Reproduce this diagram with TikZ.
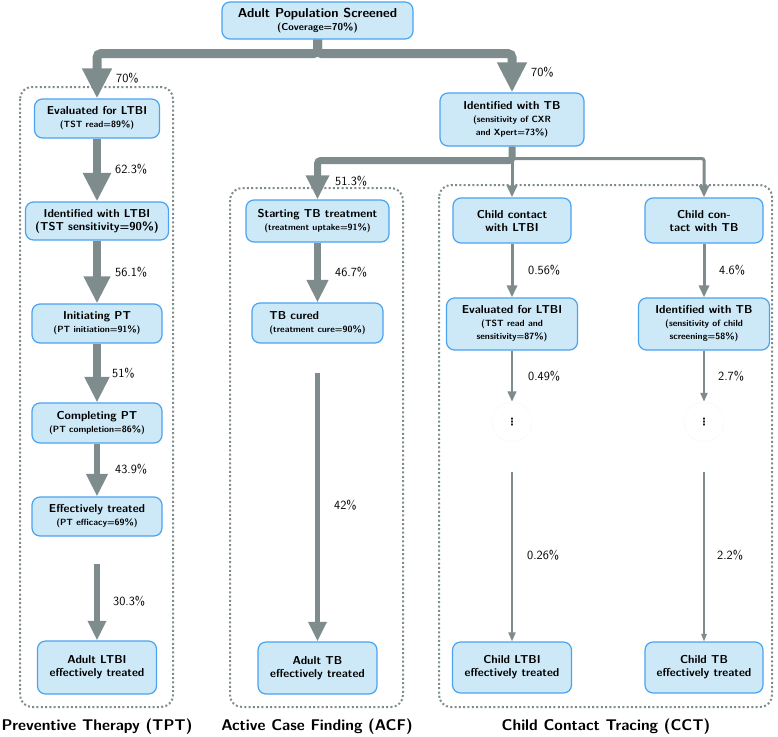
\documentclass[tikz,border=0pt]{standalone}
\usepackage{fontspec}
\usetikzlibrary{arrows.meta}

\newfontfamily\dotsfont{DejaVu Sans}
\definecolor{boxfill}{HTML}{CDE9F8}
\definecolor{boxline}{HTML}{4AA3EF}
\definecolor{flowgray}{HTML}{7F8C8D}
\newcommand{\bigfnt}{\fontsize{13}{14}\selectfont}
\newcommand{\midfnt}{\fontsize{11.5}{13}\selectfont}
\newcommand{\smlfnt}{\fontsize{9}{10.5}\selectfont}
\newcommand{\pctfnt}{\fontsize{12.5}{14}\selectfont}

\begin{document}
\begin{tikzpicture}[x=1pt, y=-1pt,
    box/.style={draw=boxline, fill=boxfill, line width=1.2pt, rounded corners=8pt,
        align=center, inner sep=2pt, font=\sffamily\bfseries\midfnt},
    flow/.style={draw=flowgray, line width=#1, -{Triangle[length=3pt 3, width=1pt 3]}},
    flow/.default=3pt,
    pct/.style={font=\sffamily\pctfnt, anchor=west, inner sep=0pt},
    group/.style={draw=flowgray, line width=2pt, dash pattern=on 2pt off 2.3pt, rounded corners=12pt},
    title/.style={font=\sffamily\bfseries\fontsize{15.5}{17}\selectfont},
    dots/.style={circle, draw=black!3, fill=white, minimum size=40pt, inner sep=0pt,
        font=\dotsfont\bfseries\fontsize{10}{10}\selectfont}]
    \useasboundingbox (0,0) rectangle (778,736);

    %groups (dotted)
    \draw[group] (20,87) rectangle (173,707);
    \draw[group] (230,188) rectangle (403,707);
    \draw[group] (439,185) rectangle (772,707);

    %screening
    \node[box, minimum width=191pt, minimum height=37pt, font=\sffamily\bfseries\bigfnt] (screen) at (317.5,20.5)
        {Adult Population Screened\\[-1pt]{\fontsize{10}{11}\selectfont (Coverage=70\%)}};

    %preventive therapy
    \node[box, minimum width=125pt, minimum height=39pt] (evalltbi) at (97,118.5)
        {Evaluated for LTBI\\{\smlfnt (TST read=89\%)}};
    \node[box, minimum width=143pt, minimum height=38pt] (idltbi) at (97,221)
        {Identified with LTBI\\(TST sensitivity=90\%)};
    \node[box, minimum width=130pt, minimum height=39pt] (initpt) at (97,323.5)
        {Initiating PT\\{\smlfnt (PT initiation=91\%)}};
    \node[box, minimum width=130pt, minimum height=40pt] (comppt) at (97,423)
        {Completing PT\\{\smlfnt (PT completion=86\%)}};
    \node[box, minimum width=130pt, minimum height=39pt] (efftr) at (97,516.5)
        {Effectively treated\\{\smlfnt (PT efficacy=69\%)}};
    \node[box, minimum width=119pt, minimum height=53pt] (adultltbi) at (97,667.5)
        {Adult LTBI\\effectively treated};

    %active case finding
    \node[box, minimum width=144pt, minimum height=53pt] (idtb) at (512,119.5)
        {Identified with TB\\{\smlfnt (sensitivity of CXR}\\{\smlfnt and Xpert=73\%)}};
    \node[box, minimum width=143pt, minimum height=42pt] (starttb) at (317.5,221)
        {Starting TB treatment\\{\smlfnt (treatment uptake=91\%)}};
    \node[box, minimum width=131pt, minimum height=40pt, align=left] (tbcured) at (317.5,323)
        {TB cured\\{\smlfnt (treatment cure=90\%)}};
    \node[box, minimum width=119pt, minimum height=52pt] (adulttb) at (317.5,668)
        {Adult TB\\effectively treated};

    %child contact tracing
    \node[box, minimum width=118pt, minimum height=45pt] (childltbi) at (512,220.5)
        {Child contact\\with LTBI};
    \node[box, minimum width=118pt, minimum height=45pt] (childtb) at (704,220.5)
        {Child con-\\tact with TB};
    \node[box, minimum width=131pt, minimum height=52pt] (evalchild) at (512,324)
        {Evaluated for LTBI\\{\smlfnt (TST read and}\\{\smlfnt sensitivity=87\%)}};
    \node[box, minimum width=131pt, minimum height=52pt] (idchild) at (704,324)
        {Identified with TB\\{\smlfnt (sensitivity of child}\\{\smlfnt screening=58\%)}};
    \node[dots] (dotsltbi) at (512,422) {⋮};
    \node[dots] (dotstb) at (704,422) {⋮};
    \node[box, minimum width=119pt, minimum height=51pt] (childltbiend) at (512,667.5)
        {Child LTBI\\effectively treated};
    \node[box, minimum width=118pt, minimum height=51pt] (childtbend) at (704,667.5)
        {Child TB\\effectively treated};

    %flows
    \draw[flow=9pt, rounded corners=4pt] (screen.south) -- ++(0,14) -| (evalltbi.north);
    \draw[flow=9pt, rounded corners=4pt] (screen.south) -- ++(0,14) -| (idtb.north);
    \draw[flow=8.5pt] (evalltbi) -- (idltbi);
    \draw[flow=8pt] (idltbi) -- (initpt);
    \draw[flow=7.5pt] (initpt) -- (comppt);
    \draw[flow=6.5pt] (comppt) -- (efftr);
    \draw[flow=5.5pt, shorten <=27pt] (efftr) -- (adultltbi);

    \draw[flow=7pt, rounded corners=3pt] (idtb.south) -- ++(0,14) -| (starttb.north);
    \draw[flow=6.5pt] (starttb) -- (tbcured);
    \draw[flow=5.5pt, shorten <=29pt] (tbcured) -- (adulttb);

    \draw[flow=3pt] (idtb) -- (childltbi);
    \draw[flow=3pt, rounded corners=2pt] (idtb.south) -- ++(0,12) -| (childtb.north);
    \draw[flow=3pt] (childltbi) -- (evalchild);
    \draw[flow=3pt] (childtb) -- (idchild);
    \draw[flow=2.5pt] (evalchild) -- (dotsltbi);
    \draw[flow=2pt] (idchild) -- (dotstb);
    \draw[flow=2pt, shorten <=30pt] (dotsltbi) -- (childltbiend);
    \draw[flow=1.5pt, shorten <=30pt] (dotstb) -- (childtbend);

    %labels
    \node[pct] (p1) at (116,78) {70\%};
    \node[pct] (p2) at (531,72) {70\%};
    \node[pct] (p3) at (115,169) {62.3\%};
    \node[pct] (p4) at (115,272) {56.1\%};
    \node[pct] (p5) at (112,373) {51\%};
    \node[pct] (p6) at (115,469) {43.9\%};
    \node[pct] (p7) at (113,601) {30.3\%};
    \node[pct] (p8) at (335,181) {51.3\%};
    \node[pct] (p9) at (335,272) {46.7\%};
    \node[pct] (p10) at (334,505) {42\%};
    \node[pct] (p11) at (528,270) {0.56\%};
    \node[pct] (p12) at (719,270) {4.6\%};
    \node[pct] (p13) at (528,376) {0.49\%};
    \node[pct] (p14) at (718,376) {2.7\%};
    \node[pct] (p15) at (527,555) {0.26\%};
    \node[pct] (p16) at (717,555) {2.2\%};

    %titles
    \node[title] (tpt) at (97,727) {Preventive Therapy (TPT)};
    \node[title] (acf) at (317,727) {Active Case Finding (ACF)};
    \node[title] (cct) at (606,727) {Child Contact Tracing (CCT)};

\end{tikzpicture}
\end{document}
